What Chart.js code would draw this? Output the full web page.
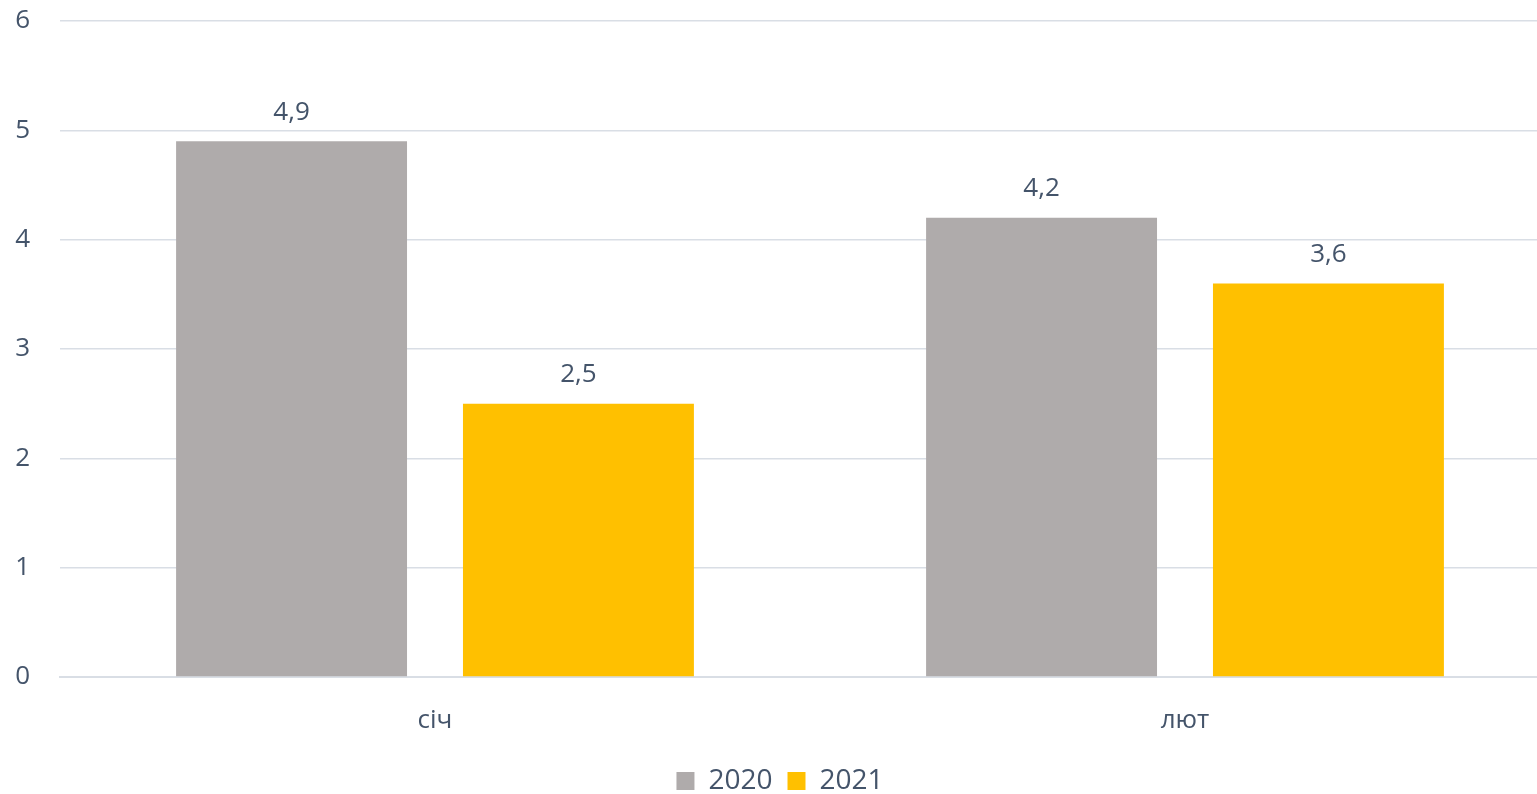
<!DOCTYPE html>
<html>
<head>
<meta charset="utf-8">
<script src="https://cdn.jsdelivr.net/npm/chart.js@4"></script>
<style>
  html, body { margin: 0; padding: 0; background: #fff; overflow: hidden; }
  #wrap { width: 1560px; height: 805px; }
</style>
</head>
<body>
<div id="wrap"><canvas id="chart"></canvas></div>
<script>
const months = ['січ', 'лют'];
const years = ['2020', '2021'];
const values2020 = [4.9, 4.2];
const values2021 = [2.5, 3.6];
const yTicks = [0, 1, 2, 3, 4, 5, 6];

const textColor = '#44546A';
const fontFamily = '"Open Sans", "Noto Sans", sans-serif';

// подписи значений над столбцами
const valueLabels = {
    id: 'valueLabels',
    afterDatasetsDraw(chart) {
        const c = chart.ctx;
        c.save();
        c.font = '26px ' + fontFamily;
        c.fillStyle = textColor;
        c.textAlign = 'center';
        c.textBaseline = 'bottom';
        chart.data.datasets.forEach((ds, i) => {
            chart.getDatasetMeta(i).data.forEach((bar, j) => {
                c.fillText(String(ds.data[j]).replace('.', ','), bar.x, bar.y - 16);
            });
        });
        c.restore();
    }
};

const ctx = document.getElementById('chart').getContext('2d');
const chart = new Chart(ctx, {
    type: 'bar',
    data: {
        labels: months,
        datasets: [{
            label: years[0],
            data: values2020,
            backgroundColor: '#AFABAB'
        }, {
            label: years[1],
            data: values2021,
            backgroundColor: '#FFC000'
        }]
    },
    options: {
        responsive: true,
        maintainAspectRatio: false,
        animation: false,
        categoryPercentage: 0.765,
        barPercentage: 0.805,
        layout: { padding: { top: 21, bottom: 0 } },
        plugins: {
            legend: {
                position: 'bottom',
                labels: {
                    font: { family: fontFamily, size: 28 },
                    color: textColor,
                    boxWidth: 18,
                    boxHeight: 18,
                    padding: 15
                }
            },
            tooltip: { enabled: false }
        },
        scales: {
            x: {
                grid: { display: false },
                border: { color: '#D9DEE5', width: 2 },
                ticks: {
                    font: { family: fontFamily, size: 26 },
                    color: textColor,
                    padding: 20
                },
                afterFit(scale) { scale.height = 75; }
            },
            y: {
                min: 0,
                max: 6,
                afterBuildTicks(scale) { scale.ticks = yTicks.map(v => ({ value: v })); },
                grid: { color: '#D9DEE5', lineWidth: 1.5, drawTicks: false },
                border: { display: false },
                ticks: {
                    font: { family: fontFamily, size: 26 },
                    color: textColor,
                    padding: 30
                },
                afterFit(scale) {
                    scale.width = 60;
                    scale.paddingTop = 0;
                    scale.paddingBottom = 0;
                }
            }
        }
    },
    plugins: [valueLabels]
});
</script>
</body>
</html>
